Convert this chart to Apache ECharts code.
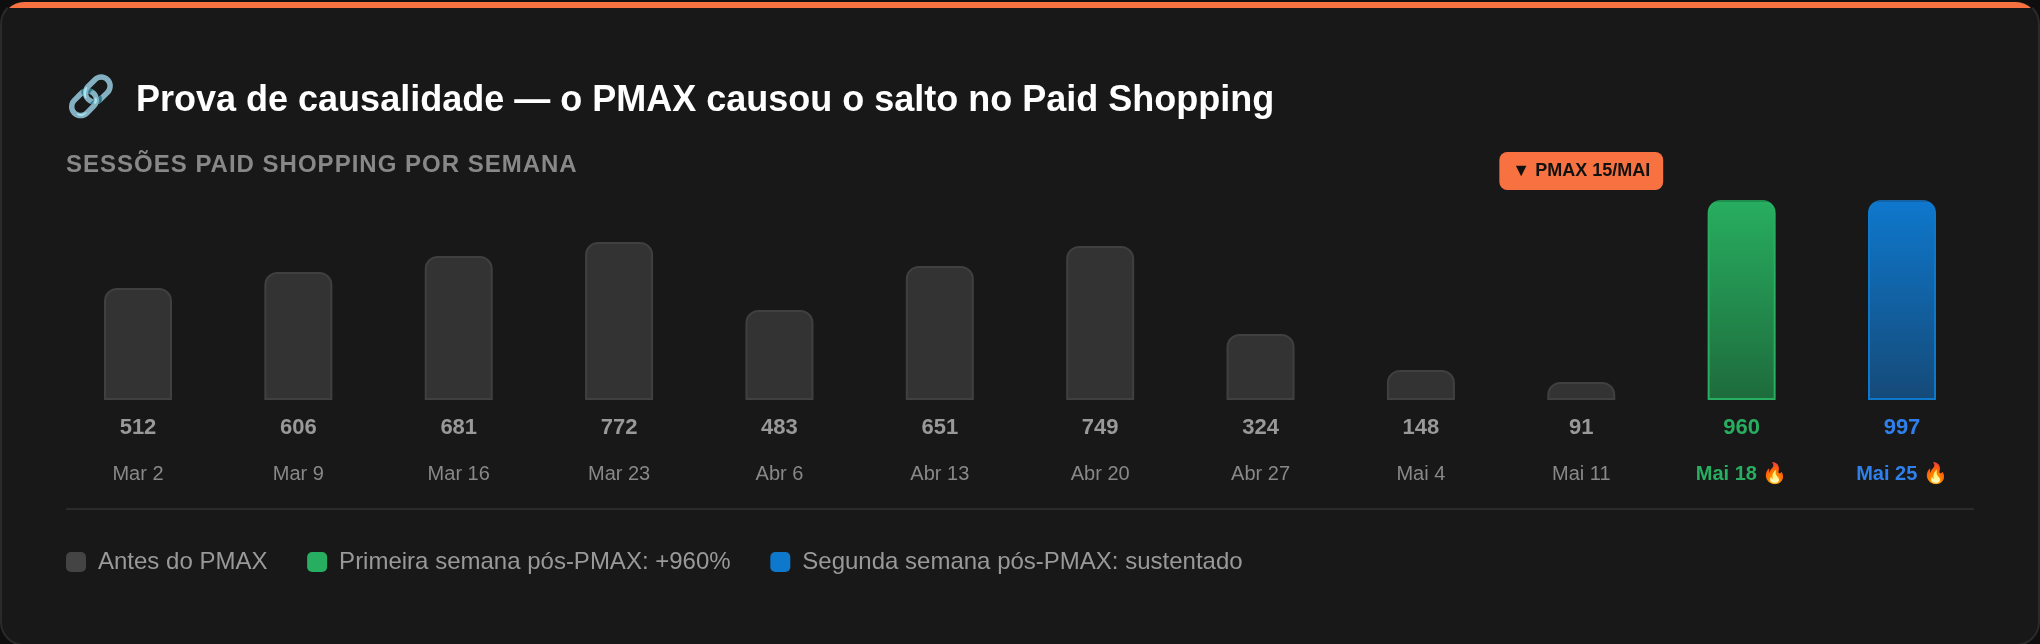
<!DOCTYPE html>
<html><head><meta charset="utf-8">
<script src="https://cdn.jsdelivr.net/npm/echarts@6/dist/echarts.min.js"></script>
<style>
html,body{margin:0;padding:0;background:#0e0e0e;width:2040px;height:644px;overflow:hidden}
.card{position:absolute;left:0;top:0;width:2040px;height:646px;box-sizing:border-box;background:#181818;border:2px solid #2a2a2a;border-top-color:#111;border-radius:24px;overflow:hidden}
.card:before{content:"";position:absolute;left:-2px;right:-2px;top:0;height:6px;background:#f77240}
#chart{position:absolute;left:0;top:0;width:2040px;height:644px}
</style></head><body>
<div class="card"></div>
<div id="chart"></div>
<script>
const categories = ['Mar 2','Mar 9','Mar 16','Mar 23','Abr 6','Abr 13','Abr 20','Abr 27','Mai 4','Mai 11','Mai 18','Mai 25'];
const sessionLabels = [512,606,681,772,483,651,749,324,148,91,960,997];
const barHeightPct = [56,64,72,79,45,67,77,33,15,9,100,100];
const legendNames = ['Antes do PMAX','Primeira semana pós-PMAX: +960%','Segunda semana pós-PMAX: sustentado'];
const beforeIdx = [0,1,2,3,4,5,6,7,8,9], firstIdx = [10], secondIdx = [11];
const SUBTITLE = 'SESSÕES PAID SHOPPING POR SEMANA';
const pick = idx => barHeightPct.map((v,i)=> idx.includes(i) ? v : null);
const FONT = '"Liberation Sans", Arial, sans-serif';
// letter-spacing for the subtitle only (zrender has no such text style)
const proto = CanvasRenderingContext2D.prototype, origFill = proto.fillText;
proto.fillText = function(t){
  const on = t === SUBTITLE;
  if(on) this.letterSpacing = '1px';
  const r = origFill.apply(this, arguments);
  if(on) this.letterSpacing = '0px';
  return r;
};
const rr = 'path://M5,0 H15 A5,5 0 0 1 20,5 V15 A5,5 0 0 1 15,20 H5 A5,5 0 0 1 0,15 V5 A5,5 0 0 1 5,0 Z';
const grad = (a,b)=>({type:'linear',x:0,y:0,x2:0,y2:1,colorStops:[{offset:0,color:a},{offset:1,color:b}]});
const edge = (top,c)=>({type:'linear',x:0,y:0,x2:0,y2:1,colorStops:[{offset:0,color:top},{offset:0.012,color:top},{offset:0.012,color:c},{offset:1,color:c}]});
const base = {type:'bar',barWidth:68,barGap:'-100%'};
const chart = echarts.init(document.getElementById('chart'),null,{renderer:'canvas'});
chart.setOption({
  backgroundColor:'transparent',
  animation:false,
  textStyle:{fontFamily:FONT},
  title:[
    {text:'🔗',left:66,top:78,padding:0,textStyle:{fontSize:40,fontFamily:'"Noto Color Emoji",'+FONT}},
    {text:'Prova de causalidade — o PMAX causou o salto no Paid Shopping',left:136,top:83,padding:0,textStyle:{fontSize:36,fontWeight:'bold',color:'#ffffff',fontFamily:FONT}},
    {text:SUBTITLE,left:66,top:153,padding:0,textStyle:{fontSize:24,fontWeight:'bold',color:'#888888',fontFamily:FONT}}
  ],
  legend:{
    left:66,top:550,padding:0,itemWidth:20,itemHeight:20,itemGap:39.7,icon:rr,selectedMode:false,
    textStyle:{fontSize:24,color:'#999999',fontFamily:FONT,padding:[0,0,4,7]},
    data:[
      {name:legendNames[0],itemStyle:{color:'#444444',borderWidth:0}},
      {name:legendNames[1],itemStyle:{color:'#27ae60',borderWidth:0}},
      {name:legendNames[2],itemStyle:{color:'#0e78cd',borderWidth:0}}
    ]
  },
  grid:{left:57.82,right:57.82,top:150,height:250},
  xAxis:{type:'category',data:categories,axisLine:{show:false},axisTick:{show:false},
    axisLabel:{interval:0,margin:5,
      formatter:(val,i)=>{
        const k = firstIdx.includes(i)?'g':secondIdx.includes(i)?'b':'n';
        const fire = k==='n'?'':' 🔥';
        return `{v${k}|${sessionLabels[i]}}\n{d${k}|${val}${fire}}`;
      },
      rich:{
        vn:{fontSize:22,fontWeight:'bold',color:'#999999',lineHeight:46,fontFamily:FONT},
        vg:{fontSize:22,fontWeight:'bold',color:'#27ae60',lineHeight:46,fontFamily:FONT},
        vb:{fontSize:22,fontWeight:'bold',color:'#2f80ed',lineHeight:46,fontFamily:FONT},
        dn:{fontSize:20,color:'#888888',lineHeight:46,fontFamily:FONT},
        dg:{fontSize:20,fontWeight:'bold',color:'#27ae60',lineHeight:46,fontFamily:FONT},
        db:{fontSize:20,fontWeight:'bold',color:'#2f80ed',lineHeight:46,fontFamily:FONT}
      }}},
  yAxis:{type:'value',min:0,max:125,show:false,splitLine:{show:false}},
  series:[
    {...base,name:legendNames[0],data:pick(beforeIdx),
      itemStyle:{color:'#333333',borderColor:'#404040',borderWidth:2,borderRadius:[12,12,0,0]},
      markPoint:{symbolSize:0,silent:true,
        data:[{name:'PMAX',coord:['Mai 11',114.5],
          label:{show:true,position:'inside',formatter:'▼ PMAX 15/MAI',fontSize:18,fontWeight:'bold',color:'#111111',
            backgroundColor:'#f77240',borderRadius:8,padding:[10,13,10,13],fontFamily:FONT}}]}},
    {...base,name:legendNames[1],data:pick(firstIdx),
      itemStyle:{color:grad('#27ae60','#1e6b3c'),borderColor:edge('#1f8f4f','#27ae60'),borderWidth:2,borderRadius:[12,12,0,0]}},
    {...base,name:legendNames[2],data:pick(secondIdx),
      itemStyle:{color:grad('#0e78cd','#154a78'),borderColor:edge('#1563a6','#0e78cd'),borderWidth:2,borderRadius:[12,12,0,0]}}
  ],
  color:['#444444','#27ae60','#0e78cd'],
  graphic:[{type:'rect',silent:true,shape:{x:66,y:508,width:1908,height:2},style:{fill:'#2a2a2a'}}]
});
</script></body></html>
